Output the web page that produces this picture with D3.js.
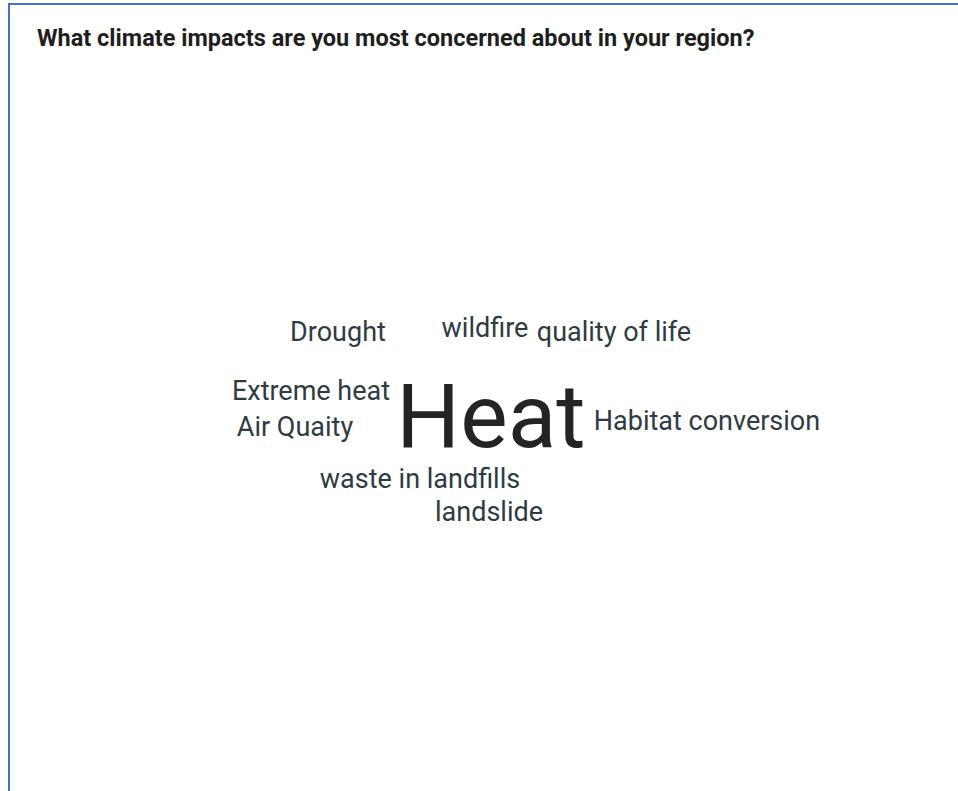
<!DOCTYPE html>
<html>
<head>
<meta charset="utf-8">
<script src="https://cdn.jsdelivr.net/npm/d3@7"></script>
<style>
    html, body { margin: 0; padding: 0; background: #fff; }
    svg { display: block; }
    text { font-family: Roboto, "Noto Sans", sans-serif; }
</style>
</head>
<body>
<div id="chart"></div>
<script>
const title = 'What climate impacts are you most concerned about in your region?';

// Responses and how many times each was given
const words = [
    'Heat', 'Drought', 'wildfire', 'quality of life', 'Extreme heat',
    'Air Quaity', 'Habitat conversion', 'waste in landfills', 'landslide'
];
const counts = [4, 1, 1, 1, 1, 1, 1, 1, 1];

// Layout of the cloud: word centre / baseline offsets from the cloud centre
const layoutX = [0, -153, -6, 123, -180, -196, 216, -71, -2];
const layoutY = [27, -79, -83, -79, -20, 16, 10, 68, 101];

const width = 958;
const height = 791;
const center = {x: 491, y: 420};

const svg = d3.select('#chart')
  .append('svg')
    .attr('width', width)
    .attr('height', height);

// frame
svg.append('path')
    .attr('d', `M9,${height} V4 H${width}`)
    .attr('fill', 'none')
    .attr('stroke', '#4472c4')
    .attr('stroke-width', 2);

svg.append('text')
    .attr('x', 37)
    .attr('y', 46)
    .attr('font-size', 23.5)
    .attr('font-weight', 700)
    .attr('fill', '#1f1f1f')
    .text(title);

const xScale = d3.scaleLinear()
    .domain([-1, 1])
    .range([center.x - 1, center.x + 1]);
const yScale = d3.scaleLinear()
    .domain([-1, 1])
    .range([center.y - 1, center.y + 1]);
const sizeScale = d3.scaleLinear()
    .domain([1, d3.max(counts)])
    .range([27, 89.5]);

const data = words.map((w, i) => ({word: w, count: counts[i], dx: layoutX[i], dy: layoutY[i]}));

svg.append('g')
    .classed('cloud', true)
  .selectAll('text')
    .data(data)
  .enter()
  .append('text')
    .attr('x', d => xScale(d.dx))
    .attr('y', d => yScale(d.dy))
    .attr('text-anchor', 'middle')
    .attr('font-size', d => sizeScale(d.count))
    .attr('fill', d => d.count > 1 ? '#242424' : '#2f3b42')
    .text(d => d.word);
</script>
</body>
</html>
